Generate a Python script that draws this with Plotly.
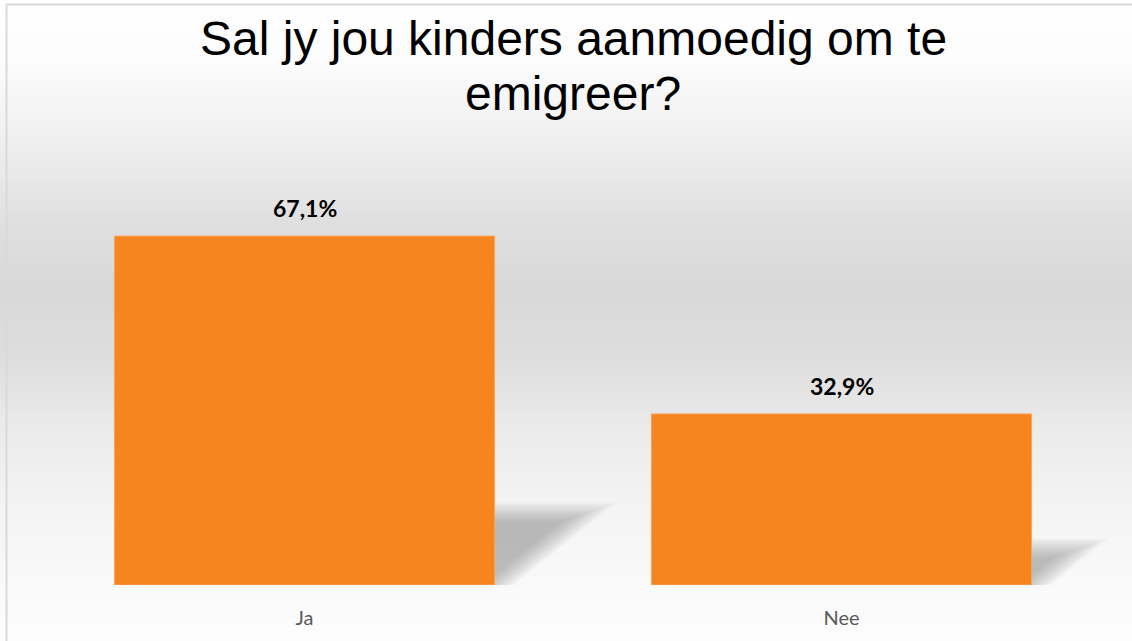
import math
import plotly.graph_objects as go

# ---- data ----
categories = ["Ja", "Nee"]
values = [67.1, 32.9]
title_lines = ["Sal jy jou kinders aanmoedig om te", "emigreer?"]

# ---- layout geometry (px) ----
W, H = 1132, 641
ML, MR, MT, MB = 36, 22, 150, 56
PW, PH = W - ML - MR, H - MT - MB
PX_PER_PCT = 5.2
YMAX = PH / PX_PER_PCT
BARGAP = 0.292
BAR_W = 1 - BARGAP
PX_PER_CAT = PW / 2.0

def py(ypx):
    return (H - MB - ypx) / PH

def px(xpx):
    return (xpx - ML) / PW

def to_data(xp, yp):
    return (xp - ML) / PX_PER_CAT - 0.5, (H - MB - yp) / PX_PER_PCT

def lbl(v):
    return f"{v:.1f}".replace(".", ",") + "%"

fig = go.Figure()
fig.add_trace(go.Bar(
    x=categories, y=values,
    marker=dict(color="#F6841F", line=dict(color="#F9A55E", width=1)),
    hoverinfo="skip",
))

shapes = []
# background vertical gradient
stops = [(0, (255, 255, 255)), (60, (252, 252, 252)), (150, (238, 238, 238)),
         (220, (224, 224, 224)), (290, (216, 216, 216)), (360, (222, 222, 222)),
         (430, (235, 235, 235)), (500, (243, 243, 243)), (580, (249, 249, 249)),
         (641, (253, 253, 253))]

def col_at(y):
    for (y0, c0), (y1, c1) in zip(stops[:-1], stops[1:]):
        if y0 <= y <= y1:
            t = (y - y0) / (y1 - y0)
            c = [round(a + (b - a) * t) for a, b in zip(c0, c1)]
            return "rgb(%d,%d,%d)" % tuple(c)
    return "rgb(253,253,253)"

step = 6
for y0 in range(0, H, step):
    y1 = min(H, y0 + step)
    shapes.append(dict(type="rect", xref="paper", yref="paper", layer="below",
                       x0=px(0), x1=px(W + 2), y0=py(y1 + 0.5), y1=py(y0),
                       fillcolor=col_at((y0 + y1) / 2), line=dict(width=0)))

# border (left & top visible)
shapes.append(dict(type="rect", xref="paper", yref="paper", layer="below",
                   x0=px(6.5), x1=px(W + 20), y0=py(H + 20), y1=py(4.5),
                   fillcolor="rgba(0,0,0,0)", line=dict(color="#d9d9d9", width=2)))

# soft perspective shadows behind bars (geometry derived from the values)
N_BLUR = 16
D_MIN, D_MAX = -8.0, 12.0
for i, v in enumerate(values):
    xr = ML + (i + 0.5 + BAR_W / 2) * PX_PER_CAT  # bar right edge, px
    base = H - MB
    hs = 1.05 * v
    dxp = 1.3 * v
    Ax, Ay = xr, base
    Cx, Cy = xr + dxp, base - hs
    top = base - hs
    L = math.hypot(Cx - Ax, Cy - Ay)
    nx, ny = (Ay - Cy) / L, (Cx - Ax) / L  # outward normal (right/down)
    for k in range(N_BLUR):
        d = D_MIN + (D_MAX - D_MIN) * k / (N_BLUR - 1)
        Bpx, Bpy = xr - 14 - d, top - d
        t = (top - d - Ay - ny * d) / (Cy - Ay)
        Cpx = Ax + nx * d + t * (Cx - Ax)
        Cpy = top - d
        t2 = ((xr - 14 - d) - Ax - nx * d) / (Cx - Ax)
        Apx = xr - 14 - d
        Apy = Ay + ny * d + t2 * (Cy - Ay)
        pts = [to_data(Apx, Apy), to_data(Bpx, Bpy), to_data(Cpx, Cpy)]
        path = "M " + " L ".join(f"{a:.5f},{b:.4f}" for a, b in pts) + " Z"
        shapes.append(dict(type="path", xref="x", yref="y", layer="below",
                           path=path, fillcolor="rgba(120,120,120,0.04)",
                           line=dict(width=0)))

annotations = []
for i, v in enumerate(values):
    annotations.append(dict(x=categories[i], y=v, xref="x", yref="y",
                            text="<b>" + lbl(v) + "</b>", showarrow=False,
                            yanchor="bottom", yshift=12,
                            font=dict(family="Lato", size=23, color="#000000")))

annotations.append(dict(x=px(573), y=py(39), xref="paper", yref="paper",
                        text=title_lines[0], showarrow=False, yanchor="middle",
                        xanchor="center",
                        font=dict(family="Liberation Sans", size=48, color="#000000")))
annotations.append(dict(x=px(573), y=py(94), xref="paper", yref="paper",
                        text=title_lines[1], showarrow=False, yanchor="middle",
                        xanchor="center",
                        font=dict(family="Liberation Sans", size=48, color="#000000")))

fig.update_layout(
    width=W, height=H, autosize=False,
    margin=dict(l=ML, r=MR, t=MT, b=MB, pad=0),
    paper_bgcolor="white", plot_bgcolor="rgba(0,0,0,0)",
    bargap=BARGAP, showlegend=False,
    shapes=shapes, annotations=annotations,
    xaxis=dict(range=[-0.5, 1.5], showgrid=False, zeroline=False, showline=False,
               ticks="", tickfont=dict(family="Lato", size=20, color="#595959"),
               ticklabelstandoff=19),
    yaxis=dict(range=[0, YMAX], visible=False, showgrid=False, zeroline=False),
)

fig.write_html("out.html", config={"displayModeBar": False},
               post_script="document.body.style.margin='0';document.body.style.overflow='hidden';")
